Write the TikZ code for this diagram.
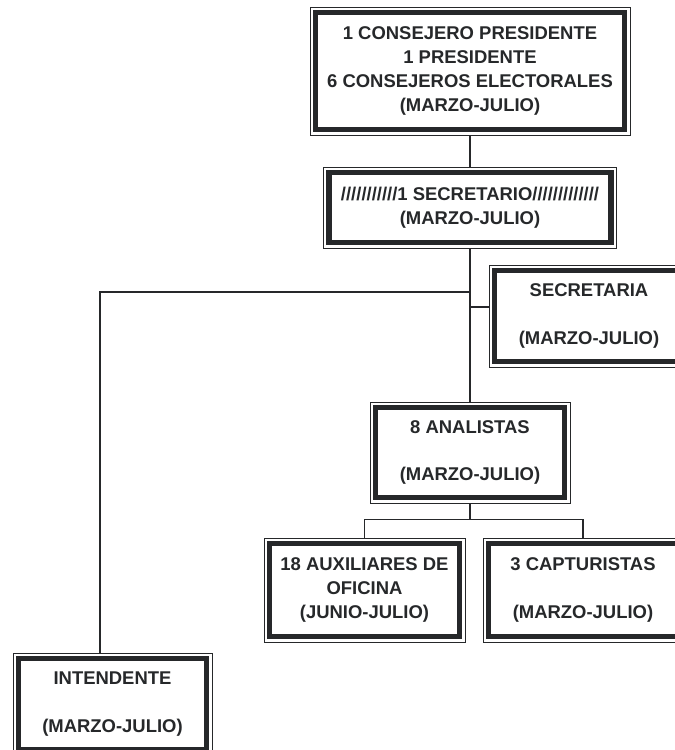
\documentclass[tikz,border=0pt]{standalone}
\usepackage{fontspec}
\setmainfont{Liberation Sans}
\usetikzlibrary{positioning}
\definecolor{ink}{RGB}{38,40,42}

\begin{document}
\begin{tikzpicture}[
  orgbox/.style={draw=ink, line width=0.5pt, fill=white, align=center, text=ink,
    font=\fontsize{10.5}{13.5}\selectfont\bfseries, inner sep=0pt,
    path picture={\draw[ink, line width=2.9pt]
      ([shift={(0.11,0.11)}]path picture bounding box.south west) rectangle
      ([shift={(-0.11,-0.11)}]path picture bounding box.north east);}},
  link/.style={draw=ink, line width=0.6pt}]
\useasboundingbox (0,0) rectangle (13.5,15);
\clip (0,0) rectangle (13.5,15);

\node[orgbox, minimum width=6.4cm, minimum height=2.56cm] (cons) at (9.4,13.58)
  {1 CONSEJERO PRESIDENTE\\1 PRESIDENTE\\6 CONSEJEROS ELECTORALES\\(MARZO-JULIO)};
\node[orgbox, minimum width=5.86cm, minimum height=1.62cm] (secr) at (9.4,10.85)
  {///////////1 SECRETARIO/////////////\\(MARZO-JULIO)};
\node[orgbox, minimum width=4.0cm, minimum height=2.04cm] (secia) at (11.78,8.68)
  {SECRETARIA\\[13.5pt](MARZO-JULIO)};
\node[orgbox, minimum width=4.0cm, minimum height=2.02cm] (anal) at (9.4,5.95)
  {8 ANALISTAS\\[13.5pt](MARZO-JULIO)};
\node[orgbox, minimum width=4.02cm, minimum height=2.08cm] (aux) at (7.29,3.2)
  {18 AUXILIARES DE\\OFICINA\\(JUNIO-JULIO)};
\node[orgbox, minimum width=4.0cm, minimum height=2.08cm] (capt) at (11.66,3.2)
  {3 CAPTURISTAS\\[13.5pt](MARZO-JULIO)};
\node[orgbox, minimum width=3.98cm, minimum height=2.04cm] (inte) at (2.25,0.92)
  {INTENDENTE\\[13.5pt](MARZO-JULIO)};

% connectors
\coordinate (lbranch) at (secr.south |- 0,9.16);
\coordinate (split) at ([yshift=-0.32cm]anal.south);
\path[link] (cons) -- (secr);
\path[link] (secr.south) -- (anal.north);
\path[link] (lbranch) -| ([xshift=-0.25cm]inte.north);
\path[link] ([yshift=0.18cm]secia.west) -| (secr.south);
\path[link] (anal.south) -- (split) -| (aux.north);
\path[link] (split) -| (capt.north);
\end{tikzpicture}
\end{document}
